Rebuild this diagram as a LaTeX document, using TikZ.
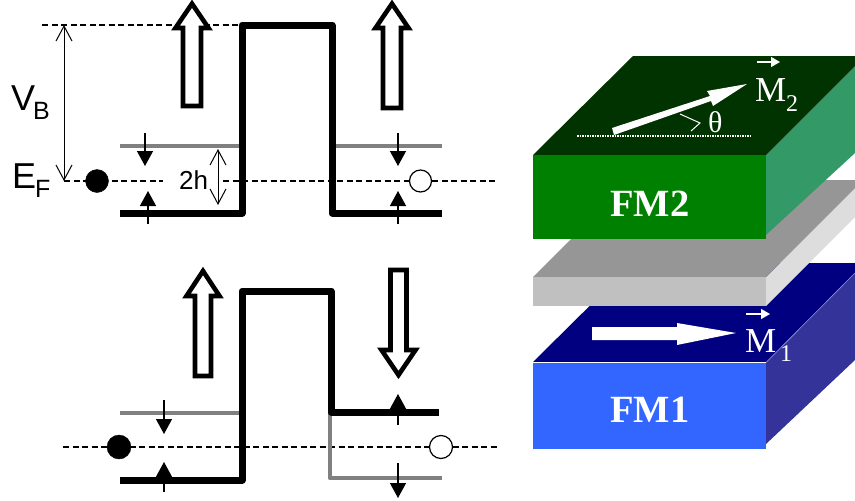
\documentclass[tikz,border=0pt]{standalone}
\usepackage{fontspec}
\setmainfont{Liberation Sans}
\newfontfamily\serifface{Liberation Serif}
\usetikzlibrary{arrows.meta}
\definecolor{fmtwofront}{HTML}{008000}
\definecolor{fmtwotop}{HTML}{003300}
\definecolor{fmtwoside}{HTML}{339966}
\definecolor{midfront}{HTML}{C0C0C0}
\definecolor{midtop}{HTML}{969696}
\definecolor{midside}{HTML}{DDDDDD}
\definecolor{fmonefront}{HTML}{3366FF}
\definecolor{fmonetop}{HTML}{000080}
\definecolor{fmoneside}{HTML}{333399}
\definecolor{levelgrey}{HTML}{808080}
\newcommand{\hollowarrow}[6]{\draw[hollow] (#1,#2) -- ({#1+#5},#3) -- ({#1+#6},#3) -- ({#1+#6},#4) -- ({#1-#6},#4) -- ({#1-#6},#3) -- ({#1-#5},#3) -- cycle;}
\tikzset{
  x=1pt,y=-1pt,
  hollow/.style={draw=black,fill=white,line width=4.6pt,line join=miter,miter limit=10},
  band/.style={line width=7pt,line join=round,draw=black},
  greyband/.style={line width=4.6pt,line join=round,draw=levelgrey},
  fermi/.style={line width=1.2pt,dash pattern=on 6pt off 3.5pt},
  spinarrow/.style={line width=1.3pt,-{Triangle[length=15pt,width=16pt]}},
  bothopen/.style={line width=1pt,{Straight Barb[length=15pt,width=16pt]}-{Straight Barb[length=15pt,width=16pt]}},
  label/.style={inner sep=0pt,anchor=base west},
  big/.style={label,font=\fontsize{36}{36}\selectfont},
  mid/.style={label,font=\fontsize{26}{26}\selectfont},
  sub/.style={label,font=\fontsize{25}{25}\selectfont},
  elec/.style={circle,draw=black,fill=black,inner sep=0pt,minimum size=23pt},
  hole/.style={circle,draw=black,fill=white,line width=1.2pt,inner sep=0pt,minimum size=22pt},
  fmtitle/.style={inner sep=0pt,anchor=base,text=white,font=\serifface\bfseries\fontsize{38.5}{38}\selectfont},
  wlabel/.style={label,text=white,font=\serifface\fontsize{35}{35}\selectfont},
  wsub/.style={label,text=white,font=\serifface\fontsize{24}{24}\selectfont},
  vecarrow/.style={draw=white,line width=1.3pt,-{Triangle[length=9pt,width=10pt]}},
}
\begin{document}
\begin{tikzpicture}
\useasboundingbox (0,0) rectangle (855,501);
% ---- upper band diagram
\coordinate (vbtop) at (64,25);
\coordinate (vbbot) at (64,181);
\draw[fermi] (42,25) -- (240,25);
\draw[fermi] (vbbot) -- (163,181);
\draw[fermi] (223,181) -- (497,181);
\draw[bothopen] (vbtop) -- (vbbot);
\node[elec] (e1) at (97,181) {};
\node[hole] (h1) at (420.5,181) {};
\draw[greyband] (120,146) -- (242,146);
\draw[greyband] (332,146) -- (442,146);
\draw[band] (120,213) -- (242,213) -- (242,25) -- (332,25) -- (332,213) -- (442,213);
\coordinate (twohtop) at (218,149);
\coordinate (twohbot) at (218,205);
\draw[bothopen] (twohtop) -- (twohbot);
\draw[spinarrow] (145,133) -- (145,166);
\draw[spinarrow] (148,224) -- (148,191);
\draw[spinarrow] (398,133) -- (398,166);
\draw[spinarrow] (398,224) -- (398,191);
\hollowarrow{192}{3.7}{28}{106}{16.5}{9}
\hollowarrow{392}{3.7}{28}{108}{16.5}{9}
\node[big] (vb) at (11,110) {V};
\node[sub] (vbs) at (33,119) {B};
\node[big] (ef) at (12,188) {E};
\node[sub] (efs) at (35,197) {F};
\node[mid] (twoh) at (179,189) {2h};
% ---- lower band diagram
\draw[fermi] (63,447) -- (497,447);
\node[elec,minimum size=24pt] (e2) at (119,447) {};
\node[hole,minimum size=23pt] (h2) at (441,447) {};
\draw[greyband] (120,413) -- (242,413);
\draw[greyband] (330,412) -- (330,478) -- (442,478);
\draw[band] (120,480) -- (242,480) -- (242,291) -- (331,291) -- (331,412) -- (439,412);
\draw[spinarrow] (164,400) -- (164,434);
\draw[spinarrow] (164,492) -- (164,462);
\draw[spinarrow] (398,425) -- (398,394);
\draw[spinarrow] (398,463) -- (398,498);
\hollowarrow{203}{271}{296}{376}{16.5}{8}
\hollowarrow{398.5}{375}{350}{270}{17}{8}
% ---- FM1 block
\fill[fmoneside] (766,362) -- (855,273) -- (855,360) -- (766,444) -- cycle;
\fill[fmonetop] (533,362) -- (633,263) -- (855,263) -- (855,273) -- (766,362) -- cycle;
\fill[fmonefront] (533,363) rectangle (766,449);
\draw[white,line width=0.8pt] (533,362.5) -- (766,362.5);
\draw[white,opacity=.5,line width=0.6pt] (766,362.5) -- (855,273);
% ---- middle layer
\fill[midside] (766,277) -- (855,188) -- (855,217) -- (766,306) -- cycle;
\fill[midtop] (533,277) -- (630,180) -- (855,180) -- (855,188) -- (766,277) -- cycle;
\fill[midfront] (533,277) rectangle (766,306);
% ---- FM2 block
\fill[fmtwoside] (766,155) -- (855,66) -- (855,153) -- (766,235) -- cycle;
\fill[fmtwotop] (533,155) -- (633,56) -- (855,56) -- (855,66) -- (766,155) -- cycle;
\fill[fmtwofront] (533,155) rectangle (766,239);
% ---- magnetisation arrows
\fill[white] (612,128) -- (710,96) -- (707,91) -- (747,84) -- (713,106) -- (711,101) -- (614,135) -- cycle;
\draw[white,line width=1.2pt,dash pattern=on 1.5pt off 1pt] (577,136) -- (750,136);
\draw[white,line width=1pt] (680,114) -- (700,123) -- (691,131);
\node[label,text=white,font=\serifface\fontsize{30}{30}\selectfont] (theta) at (708,132) {θ};
\node[wlabel] (m2) at (755,101) {M};
\node[wsub] (m2s) at (786,111) {2};
\coordinate (v2a) at (757,62);
\coordinate (v2b) at (780,62);
\draw[vecarrow] (v2a) -- (v2b);
\fill[white] (592,327) -- (677,327) -- (677,323) -- (736,333) -- (677,345) -- (677,340) -- (592,340) -- cycle;
\node[wlabel] (m1) at (745,352) {M};
\node[wsub] (m1s) at (780,361) {1};
\coordinate (v1a) at (746,314);
\coordinate (v1b) at (770,314);
\draw[vecarrow] (v1a) -- (v1b);
\node[fmtitle] (fm2) at (650,216) {FM2};
\node[fmtitle] (fm1) at (650,422) {FM1};
\end{tikzpicture}
\end{document}
